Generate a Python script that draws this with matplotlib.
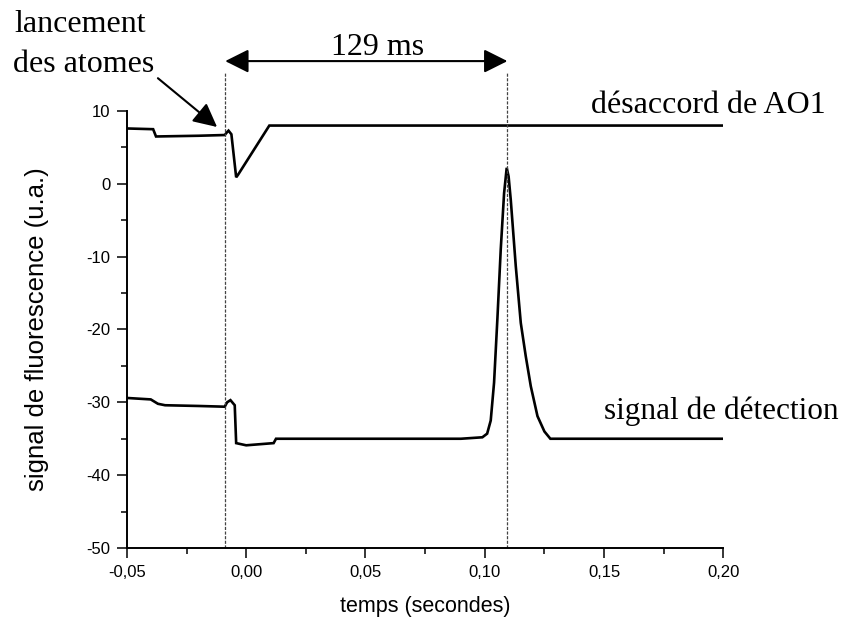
import matplotlib
matplotlib.use('Agg')
import matplotlib.pyplot as plt
from matplotlib.ticker import MultipleLocator, FuncFormatter

# ---- data ----
# AO1 detuning trace (top)
t_ao1 = [-0.050, -0.0390, -0.0378, -0.0200, -0.0090, -0.0080, -0.0074,
         -0.0062, -0.0042, -0.0035, 0.0097, 0.0500, 0.1000, 0.1500, 0.2000]
v_ao1 = [7.6, 7.5, 6.5, 6.6, 6.7, 7.1, 7.3,
         6.8, 0.9, 1.2, 8.0, 8.0, 8.0, 8.0, 8.0]

# detection signal (bottom)
t_det = [-0.050, -0.0400, -0.0370, -0.0340, -0.0200, -0.0090, -0.0080,
         -0.0066, -0.0048, -0.0042, 0.0000, 0.0115, 0.0125, 0.0300,
         0.0600, 0.0900, 0.0990, 0.1010, 0.1025, 0.1039, 0.1053, 0.1067,
         0.1081, 0.1092, 0.1100, 0.1109, 0.1130, 0.1151, 0.1172, 0.1193,
         0.1221, 0.1250, 0.1275, 0.1500, 0.2000]
v_det = [-29.4, -29.6, -30.2, -30.4, -30.5, -30.6, -30.0,
         -29.7, -30.4, -35.6, -35.9, -35.6, -35.0, -35.0,
         -35.0, -35.0, -34.8, -34.3, -32.5, -27.3, -18.5, -9.0,
         -1.3, 2.2, 1.0, -2.2, -11.3, -19.1, -23.7, -27.8,
         -31.9, -34.0, -35.0, -35.0, -35.0]

t_launch = -0.0088     # atom launch
t_peak = 0.1095        # detection peak

SERIF = 'Liberation Serif'
SANS = 'Liberation Sans'


def main():
    fig = plt.figure(figsize=(8.46, 6.19), dpi=100)
    ax = fig.add_axes([0.150, 0.1147, 0.705, 0.706])

    ax.plot(t_ao1, v_ao1, color='black', lw=1.9, solid_joinstyle='miter')
    ax.plot(t_det, v_det, color='black', lw=1.9, solid_joinstyle='miter')

    # dotted markers of the launch and peak times
    for tx in (t_launch, t_peak):
        ax.plot([tx, tx], [-50, 15.3], color='#444444', lw=0.9,
                dashes=(2.5, 1.2), clip_on=False)

    ax.set_xlim(-0.05, 0.20)
    ax.set_ylim(-50, 10)

    ax.spines['top'].set_visible(False)
    ax.spines['right'].set_visible(False)
    for s in ('left', 'bottom'):
        ax.spines[s].set_linewidth(1.4)

    ax.xaxis.set_major_locator(MultipleLocator(0.05))
    ax.xaxis.set_minor_locator(MultipleLocator(0.025))
    ax.yaxis.set_major_locator(MultipleLocator(10))
    ax.yaxis.set_minor_locator(MultipleLocator(5))
    ax.xaxis.set_major_formatter(FuncFormatter(lambda v, p: f'{v:.2f}'.replace('.', ',')))
    ax.yaxis.set_major_formatter(FuncFormatter(lambda v, p: f'{v:.0f}'))
    ax.tick_params(which='major', length=7, width=1.1, direction='out',
                   labelsize=12, pad=5)
    ax.tick_params(which='minor', length=4, width=1.1, direction='out')
    for lab in ax.get_xticklabels() + ax.get_yticklabels():
        lab.set_fontfamily(SANS)

    ax.set_xlabel('temps (secondes)', fontsize=15.5, family=SANS)
    ax.xaxis.set_label_coords(0.5, -0.110)
    ax.set_ylabel('signal de fluorescence (u.a.)', fontsize=18.5, family=SANS)
    ax.yaxis.set_label_coords(-0.130, 0.5)

    # 129 ms double arrow
    ax.annotate('', xy=(t_peak, 16.85), xytext=(t_launch, 16.85),
                arrowprops=dict(arrowstyle='<|-|>,head_length=0.72,head_width=0.36',
                                mutation_scale=20, lw=1.5, color='black',
                                shrinkA=0, shrinkB=0),
                annotation_clip=False)
    ax.text(0.055, 17.7, '129 ms', family=SERIF, fontsize=23,
            ha='center', va='baseline', clip_on=False)

    # launch annotation
    ax.text(-0.0697, 20.8, 'lancement', family=SERIF, fontsize=23,
            ha='center', va='baseline', clip_on=False)
    ax.text(-0.0680, 15.3, 'des atomes', family=SERIF, fontsize=23,
            ha='center', va='baseline', clip_on=False)
    ax.annotate('', xy=(-0.0122, 7.8), xytext=(-0.0370, 14.5),
                arrowprops=dict(arrowstyle='-|>,head_length=0.72,head_width=0.36',
                                mutation_scale=20, lw=1.5, color='black',
                                shrinkA=0, shrinkB=0),
                annotation_clip=False)

    ax.text(0.1445, 9.7, 'désaccord de AO1', family=SERIF, fontsize=23,
            ha='left', va='baseline', clip_on=False)
    ax.text(0.150, -32.3, 'signal de détection', family=SERIF, fontsize=22.5,
            ha='left', va='baseline', clip_on=False)

    fig.savefig('out.png', dpi=100)
    plt.close(fig)


if __name__ == '__main__':
    main()
